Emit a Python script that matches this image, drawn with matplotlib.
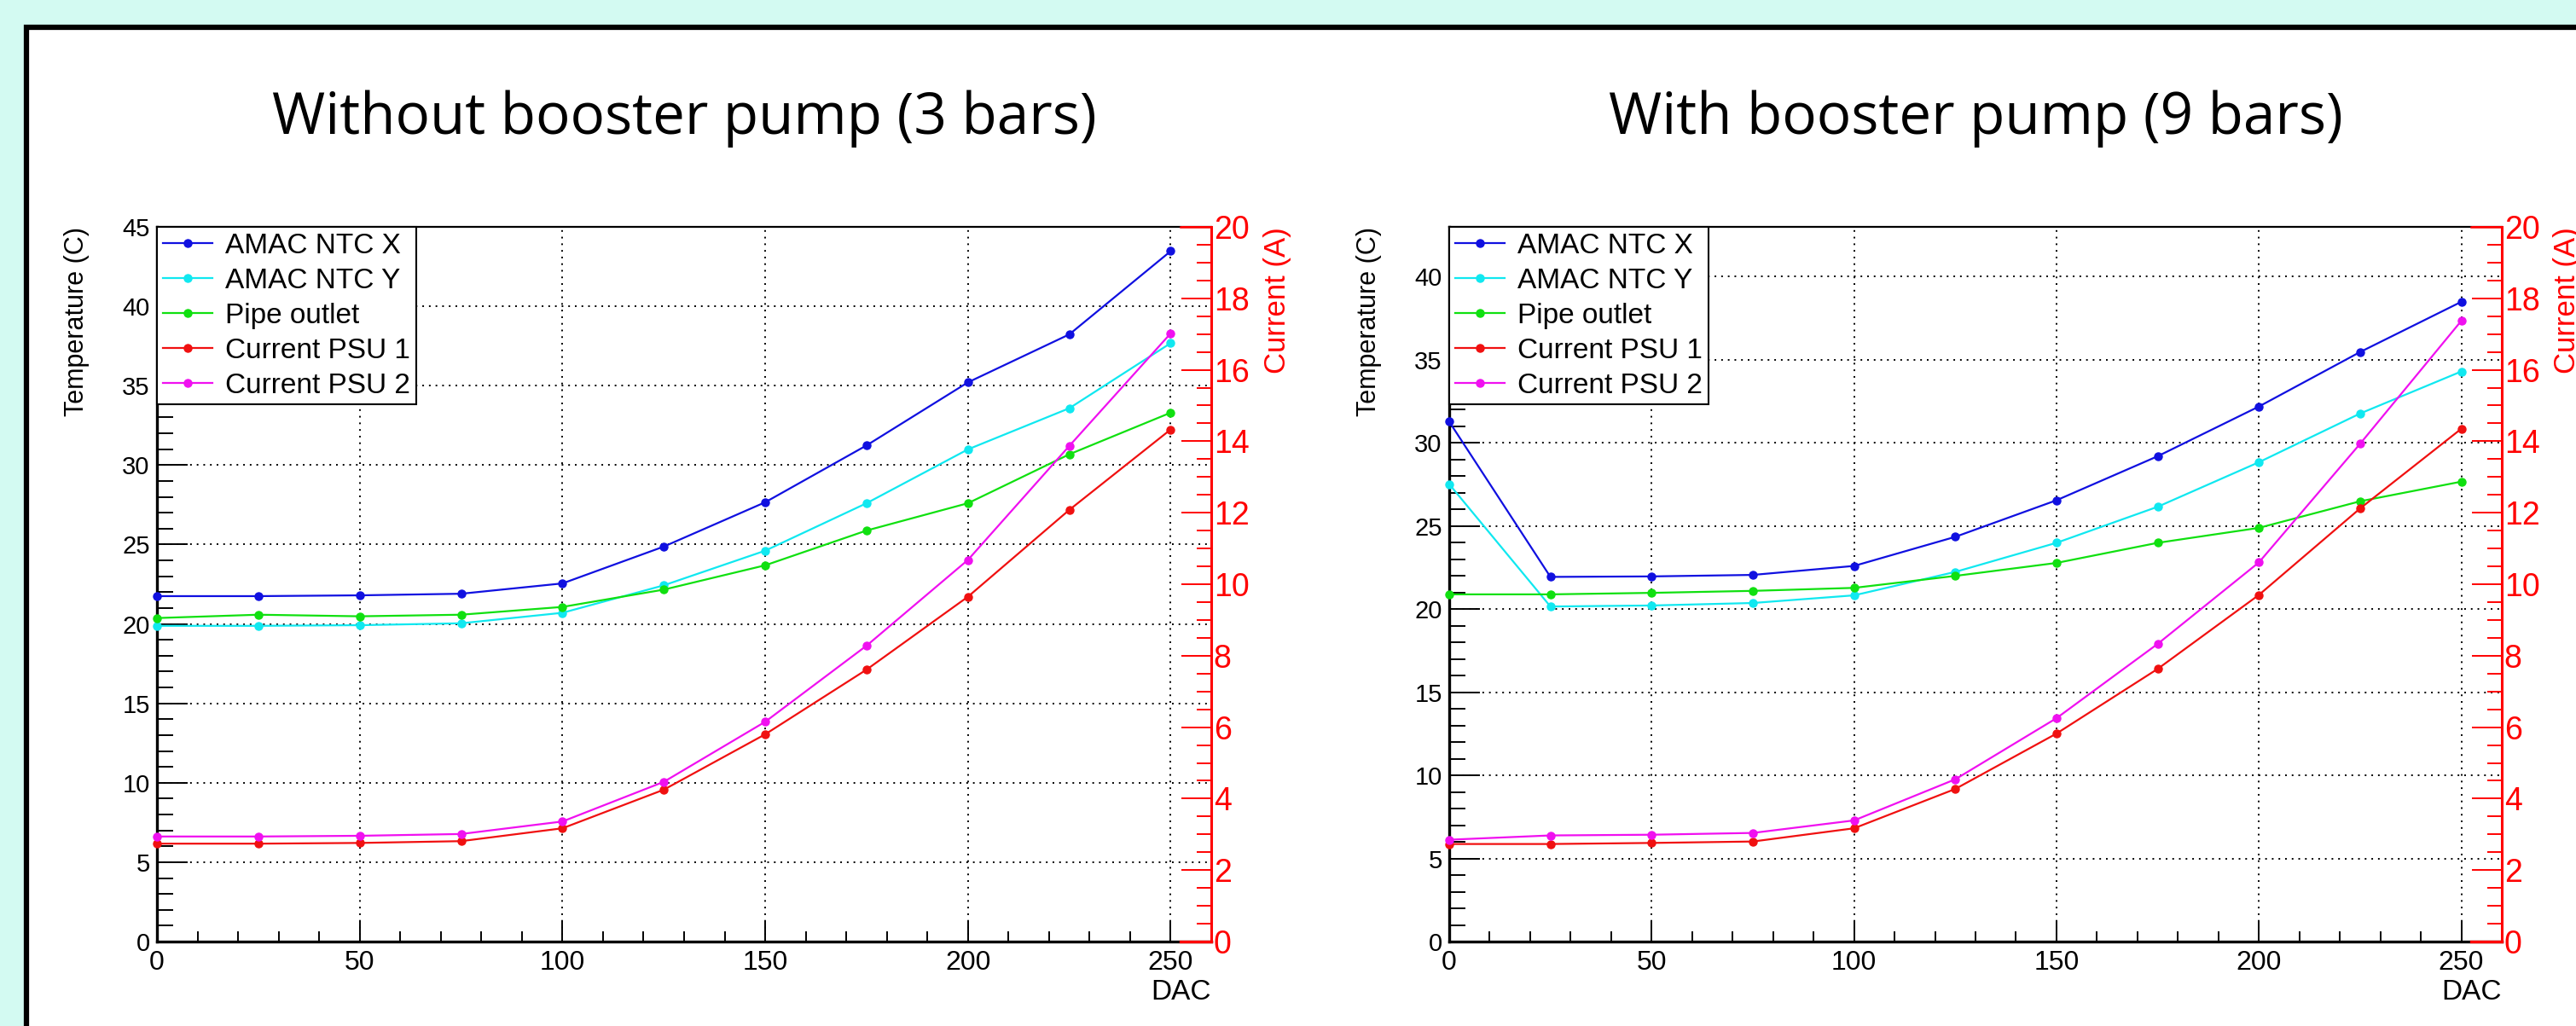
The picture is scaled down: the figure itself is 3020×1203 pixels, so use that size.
import matplotlib
matplotlib.use('Agg')
import matplotlib.pyplot as plt
from matplotlib.ticker import MultipleLocator, FixedLocator
from matplotlib.patches import Rectangle

plt.rcParams['font.family'] = ['Liberation Sans', 'DejaVu Sans']

# ---------------- data ----------------
dac = [0, 25, 50, 75, 100, 125, 150, 175, 200, 225, 250]

series_labels = ["AMAC NTC X", "AMAC NTC Y", "Pipe outlet", "Current PSU 1", "Current PSU 2"]

# Without booster pump (3 bars)
ntc_x_3 = [21.75, 21.75, 21.8, 21.9, 22.55, 24.87, 27.66, 31.24, 35.21, 38.23, 43.47]
ntc_y_3 = [19.88, 19.88, 19.92, 20.04, 20.7, 22.43, 24.61, 27.6, 30.99, 33.58, 37.68]
pipe_3 = [20.37, 20.58, 20.48, 20.58, 21.07, 22.16, 23.69, 25.88, 27.6, 30.68, 33.3]
psu1_3 = [2.74, 2.74, 2.76, 2.81, 3.17, 4.25, 5.80, 7.61, 9.65, 12.08, 14.33]
psu2_3 = [2.94, 2.94, 2.96, 3.01, 3.36, 4.47, 6.15, 8.28, 10.68, 13.87, 17.02]

# With booster pump (9 bars)
ntc_x_9 = [31.28, 21.94, 21.97, 22.06, 22.6, 24.35, 26.55, 29.2, 32.19, 35.47, 38.49]
ntc_y_9 = [27.52, 20.16, 20.22, 20.37, 20.83, 22.24, 23.99, 26.16, 28.84, 31.77, 34.3]
pipe_9 = [20.89, 20.89, 20.98, 21.1, 21.28, 22.0, 22.78, 23.99, 24.89, 26.49, 27.67]
psu1_9 = [2.73, 2.73, 2.76, 2.80, 3.17, 4.27, 5.82, 7.63, 9.70, 12.12, 14.35]
psu2_9 = [2.85, 2.97, 2.99, 3.04, 3.39, 4.54, 6.25, 8.33, 10.61, 13.93, 17.37]

titles = ["Without booster pump (3 bars)", "With booster pump (9 bars)"]
temp_max = [45, 43]
temp_ticks_3 = [0, 5, 10, 15, 20, 25, 30, 35, 40, 45]
temp_ticks_9 = [0, 5, 10, 15, 20, 25, 30, 35, 40]
current_ticks = [0, 2, 4, 6, 8, 10, 12, 14, 16, 18, 20]
dac_ticks = [0, 50, 100, 150, 200, 250]

# ---------------- style ----------------
W, H, DPI = 3020, 1203, 100
RED = '#ff0000'
colors = ['#1010e0', '#10e8f0', '#10e010', '#f01010', '#f010f0']

fig = plt.figure(figsize=(W / DPI, H / DPI), dpi=DPI)
fig.patch.set_facecolor('#d3faf2')

def fx(px):
    return px / W

def fy(py):
    return 1 - py / H

panel = Rectangle((fx(31), -0.05), 1.1, fy(32) + 0.05, transform=fig.transFigure,
                  facecolor='white', edgecolor='black', linewidth=4.5, zorder=-10)
fig.patches.append(panel)


def draw_panel(left_px, right_px, temps, currents, tmax, tticks, title):
    ax = fig.add_axes([fx(left_px), fy(1104), (right_px - left_px) / W, (1104 - 266) / H])
    ax.set_zorder(1)
    ax2 = ax.twinx()
    ax2.set_zorder(2)
    ax2.patch.set_visible(False)
    ax.set_xlim(0, 260)
    ax.set_ylim(0, tmax)
    ax2.set_ylim(0, 20)

    handles = []
    for vals, c, lab in zip(temps, colors[:3], series_labels[:3]):
        h, = ax.plot(dac, vals, color=c, lw=1.6, marker='o', ms=6.5, label=lab,
                     clip_on=False, zorder=4)
        handles.append(h)
    for vals, c, lab in zip(currents, colors[3:], series_labels[3:]):
        h, = ax2.plot(dac, vals, color=c, lw=1.6, marker='o', ms=6.5, label=lab,
                      clip_on=False, zorder=4)
        handles.append(h)

    # grid
    ax.set_xticks(dac_ticks)
    ax.set_yticks(tticks)
    ax.xaxis.set_minor_locator(FixedLocator([v for v in range(10, 260, 10) if v % 50]))
    ax.yaxis.set_minor_locator(MultipleLocator(1))
    ax.grid(True, which='major', color='black', linestyle=(0, (1, 3)), linewidth=1.4)
    ax.set_axisbelow(True)

    # spines
    for s in ['left', 'bottom']:
        ax.spines[s].set_linewidth(2.4)
    ax.spines['top'].set_linewidth(1.6)
    ax.spines['right'].set_visible(False)
    for s in ['left', 'top', 'bottom']:
        ax2.spines[s].set_visible(False)
    ax2.spines['right'].set_color(RED)
    ax2.spines['right'].set_linewidth(2.2)
    # red frame pieces of the overlay pad
    ax.plot([252.5, 260], [tmax, tmax], color=RED, lw=1.8, clip_on=False, zorder=5)
    ax.plot([252.5, 260], [0, 0], color=RED, lw=2.4, clip_on=False, zorder=5)

    # ticks
    ax.tick_params(axis='y', which='major', direction='in', length=26, width=1.4,
                   labelsize=21, pad=6, left=True, right=False)
    ax.tick_params(axis='y', which='minor', direction='in', length=13.5, width=1.4,
                   left=True, right=False)
    ax.tick_params(axis='x', which='major', direction='in', length=17, width=1.4,
                   labelsize=23, pad=7, top=False)
    ax.tick_params(axis='x', which='minor', direction='in', length=8.5, width=1.4, top=False)

    ax2.set_yticks(current_ticks)
    ax2.yaxis.set_minor_locator(MultipleLocator(0.5))
    ax2.tick_params(axis='y', which='major', direction='in', length=25, width=1.4,
                    color=RED, labelcolor=RED, labelsize=27, pad=2, left=False, right=True)
    ax2.tick_params(axis='y', which='minor', direction='in', length=12.5, width=1.4,
                    color=RED, left=False, right=True)

    # labels
    ax.set_ylabel("Temperature (C)", fontsize=22, rotation=90, rotation_mode='anchor',
                  ha='right', va='center')
    ax.yaxis.set_label_coords(-0.076, 1.0)
    ax2.set_ylabel("Current (A)", fontsize=25, color=RED, rotation=90,
                   rotation_mode='anchor', ha='right', va='center')
    ax2.yaxis.set_label_coords(1.0623, 1.0)
    ax.set_xlabel("DAC", fontsize=24, ha='right', va='top')
    ax.xaxis.set_label_coords(1.0, -0.052)

    leg = ax2.legend(handles=handles, loc='upper left', bbox_to_anchor=(0, 1),
                     borderaxespad=0, fontsize=24, frameon=True, fancybox=False,
                     edgecolor='black', framealpha=1, handlelength=1.75,
                     handletextpad=0.45, labelspacing=0.3, borderpad=0.2)
    leg.get_frame().set_linewidth(1.5)
    leg.set_zorder(10)

    fig.text(fx((left_px + right_px) / 2), fy(157), title, fontsize=48.5,
             family=['Open Sans', 'DejaVu Sans'], ha='center', va='baseline')
    return ax, ax2


draw_panel(184, 1420, [ntc_x_3, ntc_y_3, pipe_3], [psu1_3, psu2_3], temp_max[0],
           temp_ticks_3, titles[0])
draw_panel(1699, 2933, [ntc_x_9, ntc_y_9, pipe_9], [psu1_9, psu2_9], temp_max[1],
           temp_ticks_9, titles[1])

fig.savefig('out.png', dpi=DPI, facecolor=fig.get_facecolor())
